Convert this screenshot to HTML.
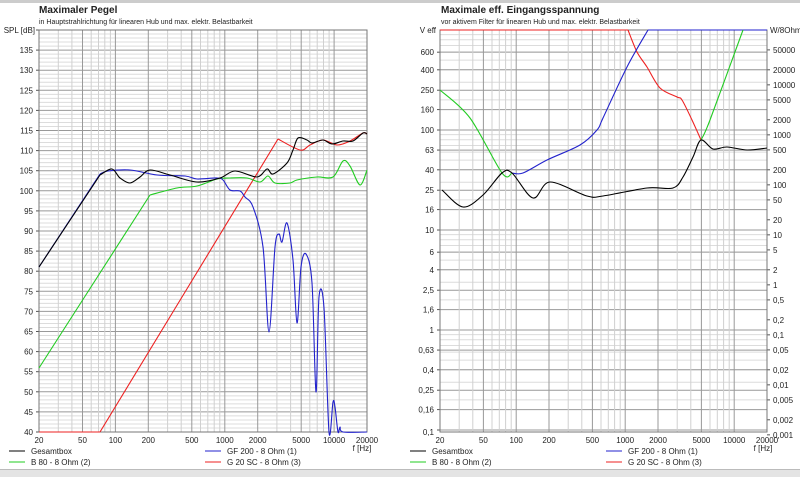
<!DOCTYPE html>
<html><head><meta charset="utf-8"><style>
body{margin:0;width:800px;height:477px;overflow:hidden;background:#fff;font-family:"Liberation Sans",sans-serif}
svg text{font-family:"Liberation Sans",sans-serif;font-size:8px;fill:#222}
</style></head><body>
<svg id="s" width="800" height="477" xmlns="http://www.w3.org/2000/svg">
<rect x="0" y="0" width="800" height="3" fill="#ccc"/>
<rect x="0" y="470" width="800" height="7" fill="#e4e4e4"/>
<rect x="0" y="469" width="800" height="1" fill="#bbb"/>
<text x="39" y="13" style="font-size:10px;font-weight:bold">Maximaler Pegel</text>
<text x="39" y="24" style="font-size:7px">in Hauptstrahlrichtung für linearen Hub und max. elektr. Belastbarkeit</text>
<text x="441" y="13" style="font-size:10px;font-weight:bold">Maximale eff. Eingangsspannung</text>
<text x="441" y="24" style="font-size:7px">vor aktivem Filter für linearen Hub und max. elektr. Belastbarkeit</text>
<g id="g"></g>
</svg>
<script>
var g=document.getElementById('g'),h='';
function L(x1,y1,x2,y2,c,w){h+='<line x1="'+x1+'" y1="'+y1+'" x2="'+x2+'" y2="'+y2+'" stroke="'+c+'" stroke-width="'+(w||1)+'"/>';}
function T(x,y,t,a){h+='<text x="'+x+'" y="'+y+'" text-anchor="'+(a||'start')+'">'+t+'</text>';}
function P(s,c){
  var p=s.trim().split(/\s+/).map(function(q){return q.split(',').map(Number);});
  var d='M'+p[0][0]+','+p[0][1];
  for(var i=0;i<p.length-1;i++){
    var p0=p[Math.max(0,i-1)],p1=p[i],p2=p[i+1],p3=p[Math.min(p.length-1,i+2)];
    var t=0.16;
    var c1x=p1[0]+(p2[0]-p0[0])*t,c1y=p1[1]+(p2[1]-p0[1])*t;
    var c2x=p2[0]-(p3[0]-p1[0])*t,c2y=p2[1]-(p3[1]-p1[1])*t;
    d+=' C'+c1x.toFixed(1)+','+c1y.toFixed(1)+' '+c2x.toFixed(1)+','+c2y.toFixed(1)+' '+p2[0]+','+p2[1];
  }
  h+='<path fill="none" stroke="'+c+'" stroke-width="1.1" d="'+d+'"/>';
}
var freqs=[];for(var d=10;d<=10000;d*=10)for(var k=1;k<10;k++){var f=d*k;if(f>=20&&f<=20000)freqs.push(f);}
var labF=[20,50,100,200,500,1000,2000,5000,10000,20000];
function panel(x0,x1,ytop,ybot){
  var pd=(x1-x0)/3;
  freqs.forEach(function(f){var x=(x0+pd*Math.log10(f/20)).toFixed(1);var m=labF.indexOf(f)>=0;L(x,ytop,x,ybot,m?'#999':'#d0d0d0');});
  labF.forEach(function(f){var x=x0+pd*Math.log10(f/20);T(x,443,f,'middle');});
}
var lx0=39,lx1=367;
for(var db=40;db<=140;db+=1){var y=432-(db-40)*4.02;if(db%5==0){L(lx0,y,lx1,y,'#999');L(lx0-3,y,lx0,y,'#555');if(db<140)T(lx0-6,y+3,db,'end');}else L(lx0,y,lx1,y,'#dcdcdc');}
panel(lx0,lx1,30,432);
h+='<rect x="39" y="30" width="328" height="402" fill="none" stroke="#777"/>';
T(35,33,'SPL [dB]','end');
T(362,451,'f [Hz]','middle');
var rx0=440,rx1=767;
function yv(v){return 30+100*(3-Math.log10(v));}
for(var d=0.1;d<1000;d*=10)for(var k=1;k<10;k++){var y=yv(d*k);L(rx0,y,rx1,y,'#dcdcdc');}
[600,400,250,160,100,63,40,25,16,10,6,4,2.5,1.6,1,0.63,0.4,0.25,0.16,0.1].forEach(function(v){var y=yv(v);L(rx0,y,rx1,y,'#999');L(rx0-3,y,rx0,y,'#555');if(v>0.1)T(rx0-6,y+3,String(v).replace('.',','),'end');});
T(rx0-6,435,'0,1','end');
[50000,20000,10000,5000,2000,1000,500,200,100,50,20,10,5,2,1,0.5,0.2,0.1,0.05,0.02,0.01,0.005,0.002,0.001].forEach(function(w){var y=yv(Math.sqrt(8*w));L(rx1,y,rx1+3,y,'#555');T(rx1+6,y+3,String(w).replace('.',','));});
panel(rx0,rx1,30,432);
h+='<rect x="440" y="30" width="327" height="402" fill="none" stroke="#777"/>';
T(436,33,'V eff','end');T(770,33,'W/8Ohm');
T(763,451,'f [Hz]','middle');
function leg(x,y,c,t){L(x,y,x+16,y,c);T(x+22,y+3,t);}
leg(9,451,'#000','Gesamtbox');leg(9,462,'#2c2','B 80 - 8 Ohm (2)');
leg(205,451,'#22c','GF 200 - 8 Ohm (1)');leg(205,462,'#e22','G 20 SC - 8 Ohm (3)');
leg(410,451,'#000','Gesamtbox');leg(410,462,'#2c2','B 80 - 8 Ohm (2)');
leg(606,451,'#22c','GF 200 - 8 Ohm (1)');leg(606,462,'#e22','G 20 SC - 8 Ohm (3)');
P('39,432 100,432','#e22');
P('100,432 278,139','#e22');
P('278,139 300,150 310,145 323,140 337,145 350,141 363,133 367,134','#e22');
P('39,368 150,195','#2c2');
P('150,195 177,188 197,186 217,179 230,178 247,178 260,182 268,176 275,183 290,183 297,180 317,177 333,177 343,161 350,166 360,185 367,170','#2c2');
P('39,267 100,174','#22c');
P('100,174 108,171 130,170 157,175 185,176 197,179 217,178 223,180 230,190 240,191 245,197 253,207 263,247 269,332 275,247 279,234 282,242 287,223 293,260 297,323 301,267 306,254 312,283 316,392 319,297 324,308 329,432 333,402 335,407 338,432 340,427 343,432 367,432','#22c');
P('39,267 100,175','#000');
P('100,175 112,169 120,178 130,183 140,177 150,170 170,175 197,182 220,178 235,171 257,177 267,169 273,174 287,163 293,150 298,138 307,140 312,143 323,140 332,144 343,141 353,141 363,133 367,134','#000');
P('440,30 628,30','#e22');
P('628,30 637,52 647,67 660,88 677,97 682,100 692,120 701,140','#e22');
P('512,173 523,173 547,160 580,145 597,130 603,118 627,67 648,30','#22c');
P('648,30 767,30','#22c');
P('440,90 470,118 502,173 512,173','#2c2');
P('701,140 710,120 743,30','#2c2');
P('442,190 463,207 483,195 502,173 512,173 533,198 550,182 587,196 603,196 647,188 673,188 683,177 693,157 701,140 713,149 727,147 747,150 767,148','#000');
g.innerHTML=h;
</script>
</body></html>
